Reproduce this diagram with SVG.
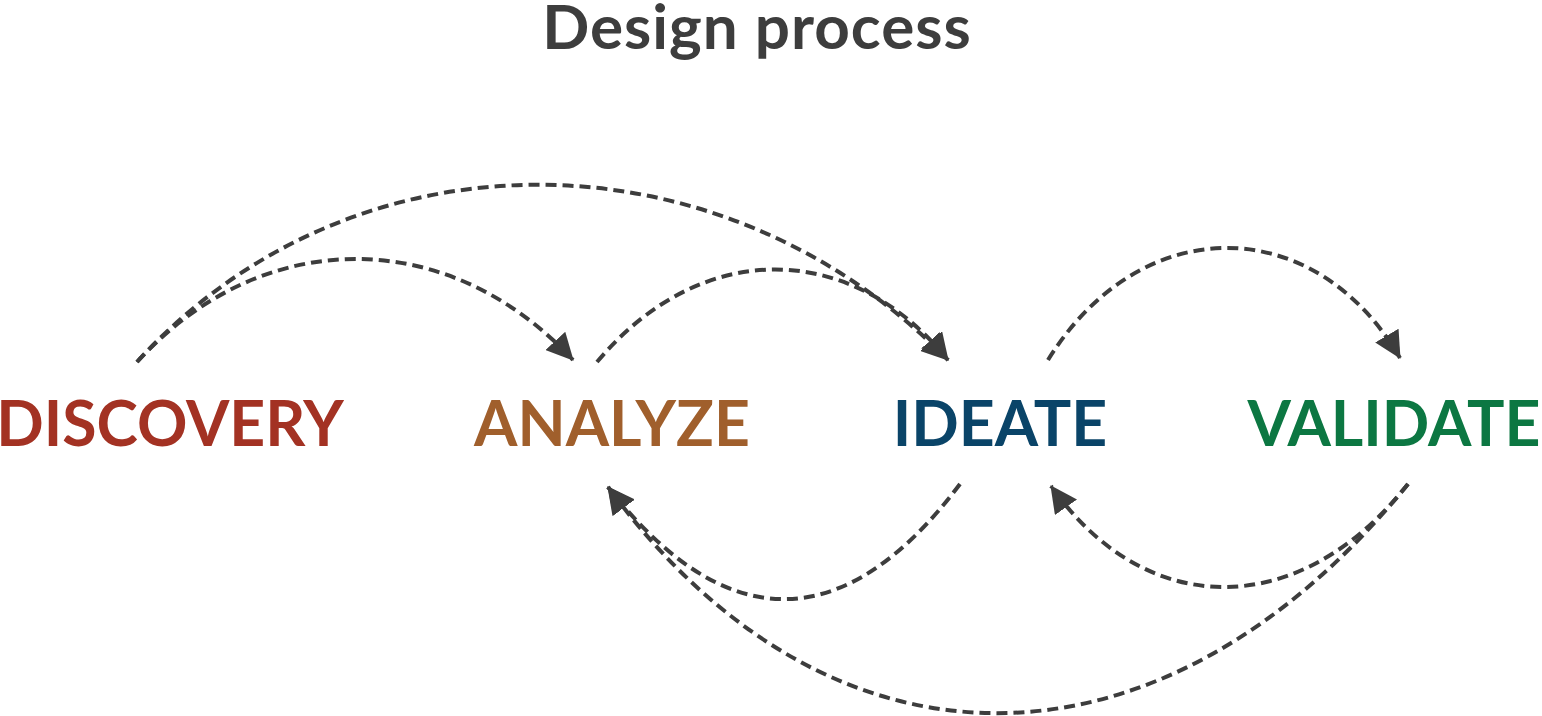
<svg xmlns="http://www.w3.org/2000/svg" width="1542" height="716" viewBox="0 0 1542 716">
  <style>
    .title { font-family: Lato, "Liberation Sans", sans-serif; font-weight: 700; font-size: 62px; letter-spacing: 1px; fill: #3d3d3d; text-anchor: middle; }
    .label { font-family: Lato, "Liberation Sans", sans-serif; font-weight: 700; font-size: 62.5px; text-anchor: middle; }
    .conn { fill: none; stroke: #3d3d3d; stroke-width: 4; stroke-dasharray: 11 6; marker-end: url(#arrow); }
  </style>
  <defs>
    <marker id="arrow" markerUnits="userSpaceOnUse" viewBox="0 0 27 27" markerWidth="27" markerHeight="27" refX="26" refY="13.5" orient="auto">
      <path d="M0,0 L27,13.5 L0,27 Z" fill="#3d3d3d"/>
    </marker>
  </defs>
  <rect width="1542" height="716" fill="#ffffff"/>
  <text class="title" x="757" y="49">Design process</text>

  <g id="connectors">
    <path id="discovery-analyze" class="conn" d="M137,362 C262,225 448,225 573,360"/>
    <path id="discovery-ideate" class="conn" d="M137,362 C352,126 718,126 948,360"/>
    <path id="analyze-ideate" class="conn" d="M597,362 C700,239 850,239 948,360"/>
    <path id="ideate-validate" class="conn" d="M1048,360 C1140,211 1314,211 1400,358"/>
    <path id="ideate-analyze" class="conn" d="M960,484 C845,637 725,637 608,487"/>
    <path id="validate-ideate" class="conn" d="M1408,484 C1300,621 1146,621 1051,486"/>
    <path id="validate-analyze" class="conn" d="M1408,484 C1160,789 829,789 608,487"/>
  </g>

  <g id="discovery"><text class="label" x="170" y="446" fill="#a33223">DISCOVERY</text></g>
  <g id="analyze"><text class="label" x="612" y="446" fill="#a05f2c">ANALYZE</text></g>
  <g id="ideate"><text class="label" x="1000" y="446" fill="#0a4468">IDEATE</text></g>
  <g id="validate"><text class="label" x="1394" y="446" fill="#0c7742">VALIDATE</text></g>
</svg>
